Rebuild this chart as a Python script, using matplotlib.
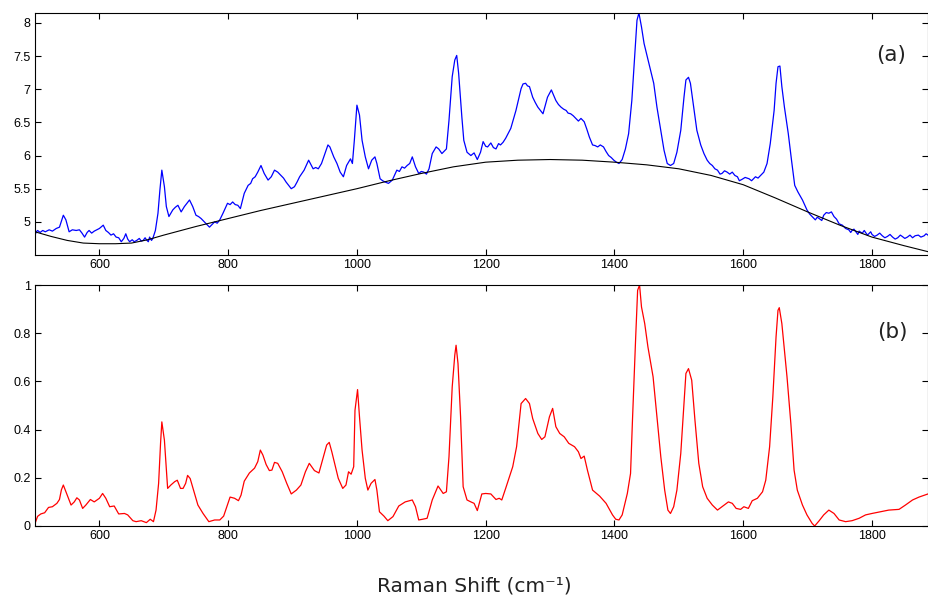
import matplotlib
matplotlib.use("Agg")
import matplotlib.pyplot as plt

# ---- data: (Raman shift, intensity) ----
raw_points = [
    (500, 4.80), (502, 4.85), (504, 4.87), (508, 4.84), (512, 4.87), (516, 4.85), (522, 4.88),
    (527, 4.86), (533, 4.90), (538, 4.92), (544, 5.10), (548, 5.03), (553, 4.85), (558, 4.88),
    (564, 4.87), (569, 4.88), (573, 4.83), (577, 4.77), (581, 4.84), (584, 4.87), (588, 4.83),
    (592, 4.86), (596, 4.88), (600, 4.90), (606, 4.95), (610, 4.87), (614, 4.84), (618, 4.80),
    (622, 4.82), (626, 4.77), (630, 4.76), (634, 4.70), (638, 4.75), (641, 4.82), (644, 4.74),
    (647, 4.70), (651, 4.73), (654, 4.70), (658, 4.72), (662, 4.75), (665, 4.71), (668, 4.72),
    (671, 4.76), (673, 4.73), (676, 4.70), (678, 4.77), (681, 4.72), (683, 4.75), (687, 4.87),
    (691, 5.13), (694, 5.48), (697, 5.78), (701, 5.53), (704, 5.23), (708, 5.08), (714, 5.18),
    (718, 5.22), (722, 5.25), (727, 5.15), (732, 5.23), (736, 5.28), (740, 5.33), (745, 5.23),
    (750, 5.10), (754, 5.08), (758, 5.05), (762, 5.01), (766, 4.97), (771, 4.92), (775, 4.96),
    (779, 5.00), (783, 4.98), (787, 5.03), (792, 5.13), (799, 5.28), (803, 5.26), (807, 5.30),
    (811, 5.26), (815, 5.25), (819, 5.20), (825, 5.43), (831, 5.55), (835, 5.58), (838, 5.65),
    (842, 5.68), (846, 5.75), (851, 5.85), (856, 5.73), (862, 5.63), (867, 5.68), (872, 5.78),
    (877, 5.75), (882, 5.70), (886, 5.66), (890, 5.60), (894, 5.55), (898, 5.50), (903, 5.53),
    (907, 5.60), (911, 5.68), (918, 5.78), (925, 5.93), (932, 5.80), (936, 5.82), (940, 5.80),
    (945, 5.88), (951, 6.05), (955, 6.16), (958, 6.13), (964, 5.98), (969, 5.88), (974, 5.75),
    (979, 5.68), (984, 5.85), (990, 5.95), (993, 5.88), (996, 6.23), (1000, 6.76), (1004, 6.61),
    (1008, 6.23), (1013, 5.98), (1018, 5.80), (1023, 5.93), (1028, 5.98), (1031, 5.88),
    (1036, 5.65), (1040, 5.62), (1044, 5.60), (1049, 5.58), (1055, 5.63), (1062, 5.78),
    (1066, 5.76), (1070, 5.83), (1074, 5.81), (1078, 5.85), (1082, 5.88), (1086, 5.98),
    (1091, 5.83), (1096, 5.73), (1100, 5.76), (1104, 5.75), (1108, 5.72), (1112, 5.80),
    (1117, 6.03), (1123, 6.13), (1127, 6.10), (1132, 6.03), (1139, 6.10), (1143, 6.53),
    (1148, 7.19), (1152, 7.44), (1155, 7.51), (1158, 7.24), (1163, 6.58), (1166, 6.23),
    (1171, 6.05), (1177, 6.00), (1182, 6.04), (1187, 5.94), (1192, 6.05), (1196, 6.21),
    (1200, 6.14), (1203, 6.13), (1208, 6.19), (1212, 6.12), (1216, 6.10), (1220, 6.18),
    (1223, 6.16), (1227, 6.20), (1231, 6.26), (1239, 6.41), (1247, 6.68), (1255, 7.01),
    (1258, 7.08), (1262, 7.09), (1265, 7.05), (1268, 7.04), (1273, 6.88), (1277, 6.80),
    (1281, 6.73), (1285, 6.68), (1289, 6.63), (1296, 6.88), (1302, 6.99), (1309, 6.83),
    (1313, 6.77), (1317, 6.73), (1321, 6.70), (1325, 6.68), (1328, 6.64), (1332, 6.63),
    (1336, 6.60), (1340, 6.56), (1344, 6.52), (1348, 6.56), (1353, 6.51), (1357, 6.40),
    (1361, 6.28), (1366, 6.16), (1370, 6.15), (1374, 6.13), (1378, 6.16), (1383, 6.13),
    (1387, 6.06), (1391, 6.00), (1395, 5.97), (1399, 5.93), (1403, 5.90), (1407, 5.88),
    (1412, 5.94), (1417, 6.10), (1422, 6.33), (1427, 6.83), (1432, 7.59), (1435, 8.04),
    (1438, 8.15), (1442, 7.94), (1446, 7.69), (1451, 7.49), (1456, 7.29), (1461, 7.09),
    (1466, 6.73), (1472, 6.38), (1477, 6.08), (1482, 5.88), (1487, 5.85), (1492, 5.88),
    (1497, 6.05), (1503, 6.38), (1508, 6.88), (1511, 7.14), (1515, 7.18), (1518, 7.09),
    (1523, 6.73), (1528, 6.38), (1534, 6.16), (1539, 6.03), (1544, 5.93), (1548, 5.88),
    (1552, 5.85), (1556, 5.80), (1560, 5.78), (1564, 5.72), (1567, 5.73), (1571, 5.77),
    (1575, 5.75), (1579, 5.72), (1583, 5.75), (1587, 5.70), (1591, 5.68), (1594, 5.62),
    (1598, 5.64), (1603, 5.67), (1609, 5.65), (1613, 5.62), (1619, 5.68), (1623, 5.66),
    (1627, 5.70), (1632, 5.75), (1637, 5.88), (1642, 6.18), (1648, 6.68), (1651, 7.09),
    (1654, 7.34), (1657, 7.35), (1660, 7.04), (1664, 6.73), (1670, 6.33), (1675, 5.93),
    (1680, 5.55), (1685, 5.45), (1692, 5.33), (1699, 5.18), (1703, 5.12), (1707, 5.08),
    (1712, 5.03), (1715, 5.07), (1718, 5.05), (1722, 5.02), (1725, 5.10), (1729, 5.14),
    (1733, 5.13), (1737, 5.15), (1741, 5.08), (1745, 5.04), (1749, 4.97), (1754, 4.95),
    (1759, 4.90), (1764, 4.88), (1767, 4.84), (1769, 4.87), (1772, 4.89), (1775, 4.85),
    (1778, 4.81), (1780, 4.86), (1783, 4.84), (1785, 4.83), (1788, 4.87), (1790, 4.84),
    (1793, 4.80), (1795, 4.82), (1798, 4.85), (1800, 4.81), (1804, 4.78), (1808, 4.80),
    (1812, 4.83), (1816, 4.79), (1820, 4.76), (1824, 4.78), (1828, 4.81), (1832, 4.77),
    (1836, 4.74), (1840, 4.76), (1844, 4.80), (1847, 4.78), (1851, 4.75), (1855, 4.77),
    (1859, 4.80), (1863, 4.76), (1867, 4.79), (1872, 4.80), (1876, 4.77), (1881, 4.79),
    (1884, 4.82), (1887, 4.80),
]

baseline_points = [
    (500, 4.85), (525, 4.78), (550, 4.72), (575, 4.68), (600, 4.67), (625, 4.67), (650, 4.68),
    (675, 4.73), (700, 4.80), (750, 4.93), (800, 5.05), (850, 5.17), (900, 5.28), (950, 5.39),
    (1000, 5.50), (1050, 5.62), (1100, 5.73), (1150, 5.83), (1200, 5.90), (1250, 5.93),
    (1300, 5.94), (1350, 5.93), (1400, 5.90), (1450, 5.86), (1500, 5.80), (1550, 5.70),
    (1600, 5.56), (1650, 5.36), (1700, 5.15), (1750, 4.95), (1800, 4.77), (1850, 4.64),
    (1887, 4.55),
]

corrected_points = [
    (500, 0.010), (504, 0.040), (509, 0.050), (515, 0.055), (521, 0.077), (527, 0.080),
    (534, 0.094), (538, 0.110), (541, 0.150), (544, 0.170), (548, 0.142), (556, 0.087),
    (561, 0.100), (565, 0.117), (569, 0.108), (574, 0.073), (579, 0.087), (586, 0.110),
    (592, 0.100), (600, 0.115), (605, 0.135), (610, 0.115), (616, 0.080), (623, 0.083),
    (630, 0.050), (639, 0.052), (644, 0.046), (652, 0.022), (657, 0.018), (665, 0.022),
    (673, 0.014), (679, 0.028), (684, 0.018), (688, 0.066), (692, 0.177), (695, 0.343),
    (697, 0.432), (701, 0.356), (704, 0.232), (706, 0.156), (711, 0.170), (717, 0.184),
    (721, 0.190), (726, 0.156), (730, 0.156), (734, 0.177), (737, 0.210), (741, 0.197),
    (747, 0.142), (753, 0.087), (761, 0.052), (770, 0.018), (779, 0.025), (787, 0.025),
    (793, 0.041), (797, 0.073), (803, 0.120), (810, 0.115), (816, 0.105), (820, 0.128),
    (825, 0.186), (833, 0.220), (841, 0.240), (846, 0.267), (850, 0.315), (854, 0.294),
    (859, 0.255), (864, 0.230), (868, 0.232), (872, 0.264), (877, 0.260), (884, 0.225),
    (891, 0.177), (898, 0.133), (906, 0.149), (913, 0.170), (920, 0.225), (926, 0.260),
    (934, 0.230), (941, 0.220), (948, 0.287), (953, 0.336), (957, 0.347), (961, 0.308),
    (966, 0.253), (971, 0.198), (978, 0.156), (983, 0.170), (987, 0.225), (991, 0.215),
    (995, 0.246), (997, 0.480), (1001, 0.566), (1004, 0.453), (1008, 0.315), (1013, 0.198),
    (1017, 0.149), (1022, 0.177), (1028, 0.193), (1031, 0.149), (1035, 0.059), (1042, 0.041),
    (1048, 0.022), (1056, 0.039), (1065, 0.083), (1075, 0.100), (1086, 0.108), (1091, 0.080),
    (1096, 0.025), (1102, 0.028), (1109, 0.032), (1117, 0.108), (1126, 0.166), (1134, 0.135),
    (1139, 0.142), (1143, 0.287), (1148, 0.577), (1152, 0.709), (1154, 0.750), (1157, 0.674),
    (1161, 0.453), (1165, 0.163), (1171, 0.108), (1177, 0.100), (1182, 0.094), (1187, 0.064),
    (1194, 0.133), (1200, 0.135), (1208, 0.133), (1216, 0.110), (1221, 0.115), (1225, 0.108),
    (1231, 0.156), (1242, 0.246), (1248, 0.329), (1255, 0.508), (1262, 0.529), (1268, 0.508),
    (1273, 0.446), (1281, 0.384), (1287, 0.359), (1292, 0.370), (1299, 0.453), (1304, 0.488),
    (1309, 0.412), (1315, 0.384), (1322, 0.370), (1329, 0.343), (1338, 0.329), (1344, 0.308),
    (1348, 0.280), (1353, 0.290), (1358, 0.232), (1366, 0.149), (1377, 0.124), (1387, 0.094),
    (1397, 0.046), (1402, 0.028), (1407, 0.025), (1412, 0.046), (1420, 0.135), (1425, 0.218),
    (1428, 0.440), (1433, 0.785), (1436, 0.978), (1439, 1.000), (1442, 0.909), (1447, 0.840),
    (1452, 0.743), (1460, 0.619), (1465, 0.480), (1472, 0.287), (1478, 0.149), (1483, 0.066),
    (1487, 0.052), (1492, 0.080), (1497, 0.149), (1503, 0.301), (1508, 0.508), (1511, 0.633),
    (1515, 0.653), (1520, 0.605), (1525, 0.440), (1531, 0.260), (1537, 0.163), (1544, 0.115),
    (1552, 0.087), (1560, 0.066), (1567, 0.080), (1577, 0.100), (1583, 0.094), (1589, 0.073),
    (1596, 0.069), (1601, 0.080), (1608, 0.073), (1614, 0.105), (1622, 0.115), (1630, 0.142),
    (1635, 0.190), (1641, 0.329), (1646, 0.536), (1651, 0.785), (1654, 0.895), (1656, 0.906),
    (1660, 0.840), (1664, 0.729), (1668, 0.619), (1674, 0.425), (1679, 0.232), (1684, 0.149),
    (1692, 0.087), (1699, 0.046), (1707, 0.011), (1711, 0.000), (1718, 0.022), (1725, 0.046),
    (1733, 0.066), (1741, 0.052), (1749, 0.025), (1759, 0.018), (1769, 0.022), (1780, 0.032),
    (1790, 0.046), (1800, 0.052), (1813, 0.059), (1826, 0.066), (1842, 0.069), (1852, 0.087),
    (1863, 0.108), (1873, 0.120), (1887, 0.133),
]

raw_shift = [p[0] for p in raw_points]
raw_intensity = [p[1] for p in raw_points]
base_shift = [p[0] for p in baseline_points]
base_intensity = [p[1] for p in baseline_points]
corr_shift = [p[0] for p in corrected_points]
corr_intensity = [p[1] for p in corrected_points]

top_yticks = [5, 5.5, 6, 6.5, 7, 7.5, 8]
top_yticklabels = ["5", "5.5", "6", "6.5", "7", "7.5", "8"]
bot_yticks = [0, 0.2, 0.4, 0.6, 0.8, 1]
bot_yticklabels = ["0", "0.2", "0.4", "0.6", "0.8", "1"]
xticks = [600, 800, 1000, 1200, 1400, 1600, 1800]
xlabel = "Raman Shift (cm\u207b\u00b9)"
panel_labels = ["(a)", "(b)"]

# ---- figure ----
W, H = 929, 598
fig = plt.figure(figsize=(W / 100, H / 100), dpi=100)


def frac(l, t, r, b):
    return [l / W, 1 - b / H, (r - l) / W, (b - t) / H]


ax1 = fig.add_axes(frac(35, 13, 928, 255))
ax2 = fig.add_axes(frac(35, 285, 928, 526))

ax1.plot(raw_shift, raw_intensity, color="#0000ff", lw=0.9)
ax1.plot(base_shift, base_intensity, color="black", lw=0.8)
ax2.plot(corr_shift, corr_intensity, color="#ff0000", lw=0.9)

ax1.set_ylim(4.5, 8.15)
ax2.set_ylim(0, 1)
ax1.set_yticks(top_yticks)
ax1.set_yticklabels(top_yticklabels)
ax2.set_yticks(bot_yticks)
ax2.set_yticklabels(bot_yticklabels)

for ax in (ax1, ax2):
    ax.set_xlim(500, 1887)
    ax.set_xticks(xticks)
    ax.set_xticklabels([str(t) for t in xticks])
    ax.tick_params(direction="in", top=True, right=True, length=4, width=0.8,
                   labelsize=9, pad=3)
    for lbl in ax.get_xticklabels() + ax.get_yticklabels():
        lbl.set_family("Liberation Sans")
    for s in ax.spines.values():
        s.set_linewidth(0.8)

ax1.text(0.959, 0.826, panel_labels[0], transform=ax1.transAxes, fontsize=15.5,
         ha="center", va="center", family="DejaVu Sans", color="#222222")
ax2.text(0.960, 0.805, panel_labels[1], transform=ax2.transAxes, fontsize=15.5,
         ha="center", va="center", family="DejaVu Sans", color="#222222")

fig.text(474 / W, 1 - 592 / H, xlabel, ha="center", va="baseline", fontsize=14.5,
         family="DejaVu Sans", color="#222222")

fig.savefig("out.png", dpi=100)
